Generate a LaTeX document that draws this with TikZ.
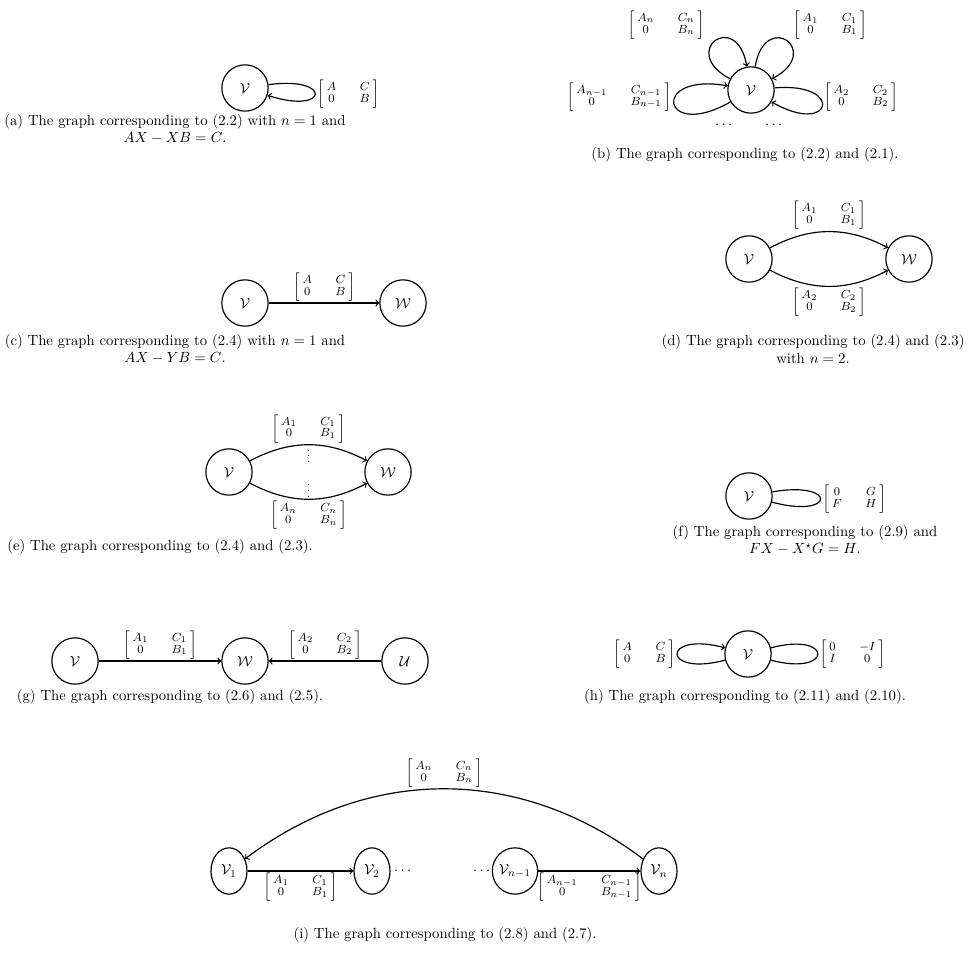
\documentclass[tikz,border=0pt]{standalone}
\usepackage{amsmath,amssymb}
\usepackage{tikz}
\usetikzlibrary{shapes.geometric}
\newcommand{\blk}[4]{\renewcommand{\arraystretch}{0.85}\left[\begin{array}{@{\hspace{2pt}}c@{\hspace{16pt}}c@{\hspace{2pt}}}#1&#2\\#3&#4\end{array}\right]}

\begin{document}
\begin{tikzpicture}[x=0.68pt, y=0.68pt,
  vtx/.style={draw, thick, circle, minimum size=31.5pt, inner sep=0pt},
  vtxe/.style={draw, thick, ellipse, minimum width=24.5pt, minimum height=31.5pt, inner sep=0pt},
  conn/.style={->, thick},
  loopline/.style={thick},
  mat/.style={font=\footnotesize, inner sep=1pt},
  captxt/.style={align=center}
]
  \useasboundingbox (0,0) rectangle (971,959);

  % (a) one loop
  \node[vtx] (va) at (245,871) {$\mathcal{V}$};
  \draw[conn] (va) to[out=8, in=-18, distance=44pt] node[mat, right] (la) {$\blk{A}{C}{0}{B}$} (va);
  \node[captxt] (ca) at (175,830) {(a) The graph corresponding to (2.2) with $n=1$ and\\$AX-XB=C$.};

  % (b) many loops
  \node[vtx] (vb) at (751,869) {$\mathcal{V}$};
  \draw[conn] (vb) to[out=5, in=-30, distance=48pt] (vb);
  \draw[conn] (vb) to[out=210, in=170, distance=54pt] (vb);
  \draw[conn] (vb) to[out=152, in=100, distance=40pt] (vb);
  \draw[conn] (vb) to[out=80, in=28, distance=40pt] (vb);
  \node[mat] (lb2) at (861,862) {$\blk{A_2}{C_2}{0}{B_2}$};
  \node[mat] (lbm) at (619,862) {$\blk{A_{n-1}}{C_{n-1}}{0}{B_{n-1}}$};
  \node[mat] (lbn) at (666,934) {$\blk{A_n}{C_n}{0}{B_n}$};
  \node[mat] (lb1) at (830,934) {$\blk{A_1}{C_1}{0}{B_1}$};
  \node (db1) at (725,834) {$\cdots$};
  \node (db2) at (775,834) {$\cdots$};
  \node[captxt] (cb) at (745,804) {(b) The graph corresponding to (2.2) and (2.1).};

  % (c)
  \node[vtx] (vc) at (245,656) {$\mathcal{V}$};
  \node[vtx] (wc) at (403,656) {$\mathcal{W}$};
  \draw[conn] (vc) -- node[mat, above] (lc) {$\blk{A}{C}{0}{B}$} (wc);
  \node[captxt] (cc) at (175,610) {(c) The graph corresponding to (2.4) with $n=1$ and\\$AX-YB=C$.};

  % (d)
  \node[vtx] (vd) at (749,700) {$\mathcal{V}$};
  \node[vtx] (wd) at (909,700) {$\mathcal{W}$};
  \draw[conn] (vd) to[bend left=28] node[mat, above] (ld1) {$\blk{A_1}{C_1}{0}{B_1}$} (wd);
  \draw[conn] (vd) to[bend right=28] node[mat, below] (ld2) {$\blk{A_2}{C_2}{0}{B_2}$} (wd);
  \node[captxt] (cd) at (813,610) {(d) The graph corresponding to (2.4) and (2.3)\\with $n=2$.};

  % (e)
  \node[vtx] (ve) at (229,487) {$\mathcal{V}$};
  \node[vtx] (we) at (388,487) {$\mathcal{W}$};
  \draw[conn] (ve) to[bend left=28] node[mat, above] (le1) {$\blk{A_1}{C_1}{0}{B_1}$}
    node[mat, below=-4pt] (de1) {$\vdots$} (we);
  \draw[conn] (ve) to[bend right=28] node[mat, below] (len) {$\blk{A_n}{C_n}{0}{B_n}$}
    node[mat, above] (den) {$\vdots$} (we);
  \node[captxt] (ce) at (160,412) {(e) The graph corresponding to (2.4) and (2.3).};

  % (f)
  \node[vtx] (vf) at (749,463) {$\mathcal{V}$};
  \draw[loopline] (vf) to[out=10, in=-15, distance=45pt] node[mat, right] (lf) {$\blk{0}{G}{F}{H}$} (vf);
  \node[captxt] (cf) at (805,419) {(f) The graph corresponding to (2.9) and\\$FX-X^{\star}G=H$.};

  % (g)
  \node[vtx] (vg) at (75,298) {$\mathcal{V}$};
  \node[vtx] (wg) at (245,298) {$\mathcal{W}$};
  \node[vtx] (ug) at (405,298) {$\mathcal{U}$};
  \draw[conn] (vg) -- node[mat, above] (lg1) {$\blk{A_1}{C_1}{0}{B_1}$} (wg);
  \draw[conn] (ug) -- node[mat, above] (lg2) {$\blk{A_2}{C_2}{0}{B_2}$} (wg);
  \node[captxt] (cg) at (170,262) {(g) The graph corresponding to (2.6) and (2.5).};

  % (h)
  \node[vtx] (vh) at (748,305) {$\mathcal{V}$};
  \draw[conn] (vh) to[out=195, in=165, distance=45pt] node[mat, left] (lh1) {$\blk{A}{C}{0}{B}$} (vh);
  \draw[loopline] (vh) to[out=15, in=-15, distance=44pt] node[mat, right] (lh2) {$\blk{0}{-I}{I}{0}$} (vh);
  \node[captxt] (ch) at (745,262) {(h) The graph corresponding to (2.11) and (2.10).};

  % (i) cycle
  \node[vtxe] (v1) at (229,88) {$\mathcal{V}_1$};
  \node[vtxe] (v2) at (372,88) {$\mathcal{V}_2$};
  \node[vtxe] (vn1) at (515,88) {$\mathcal{V}_{n-1}$};
  \node[vtxe] (vn) at (659,88) {$\mathcal{V}_n$};
  \node (di1) at (404,88) {$\cdots$};
  \node (di2) at (483,88) {$\cdots$};
  \draw[conn] (v1) -- node[mat, below] (li1) {$\blk{A_1}{C_1}{0}{B_1}$} (v2);
  \draw[conn] (vn1) -- node[mat, below] (lim) {$\blk{A_{n-1}}{C_{n-1}}{0}{B_{n-1}}$} (vn);
  \draw[conn] (vn) to[bend right=37] node[mat, above] (lin) {$\blk{A_n}{C_n}{0}{B_n}$} (v1);
  \node[captxt] (ci) at (445,24) {(i) The graph corresponding to (2.8) and (2.7).};
\end{tikzpicture}
\end{document}
